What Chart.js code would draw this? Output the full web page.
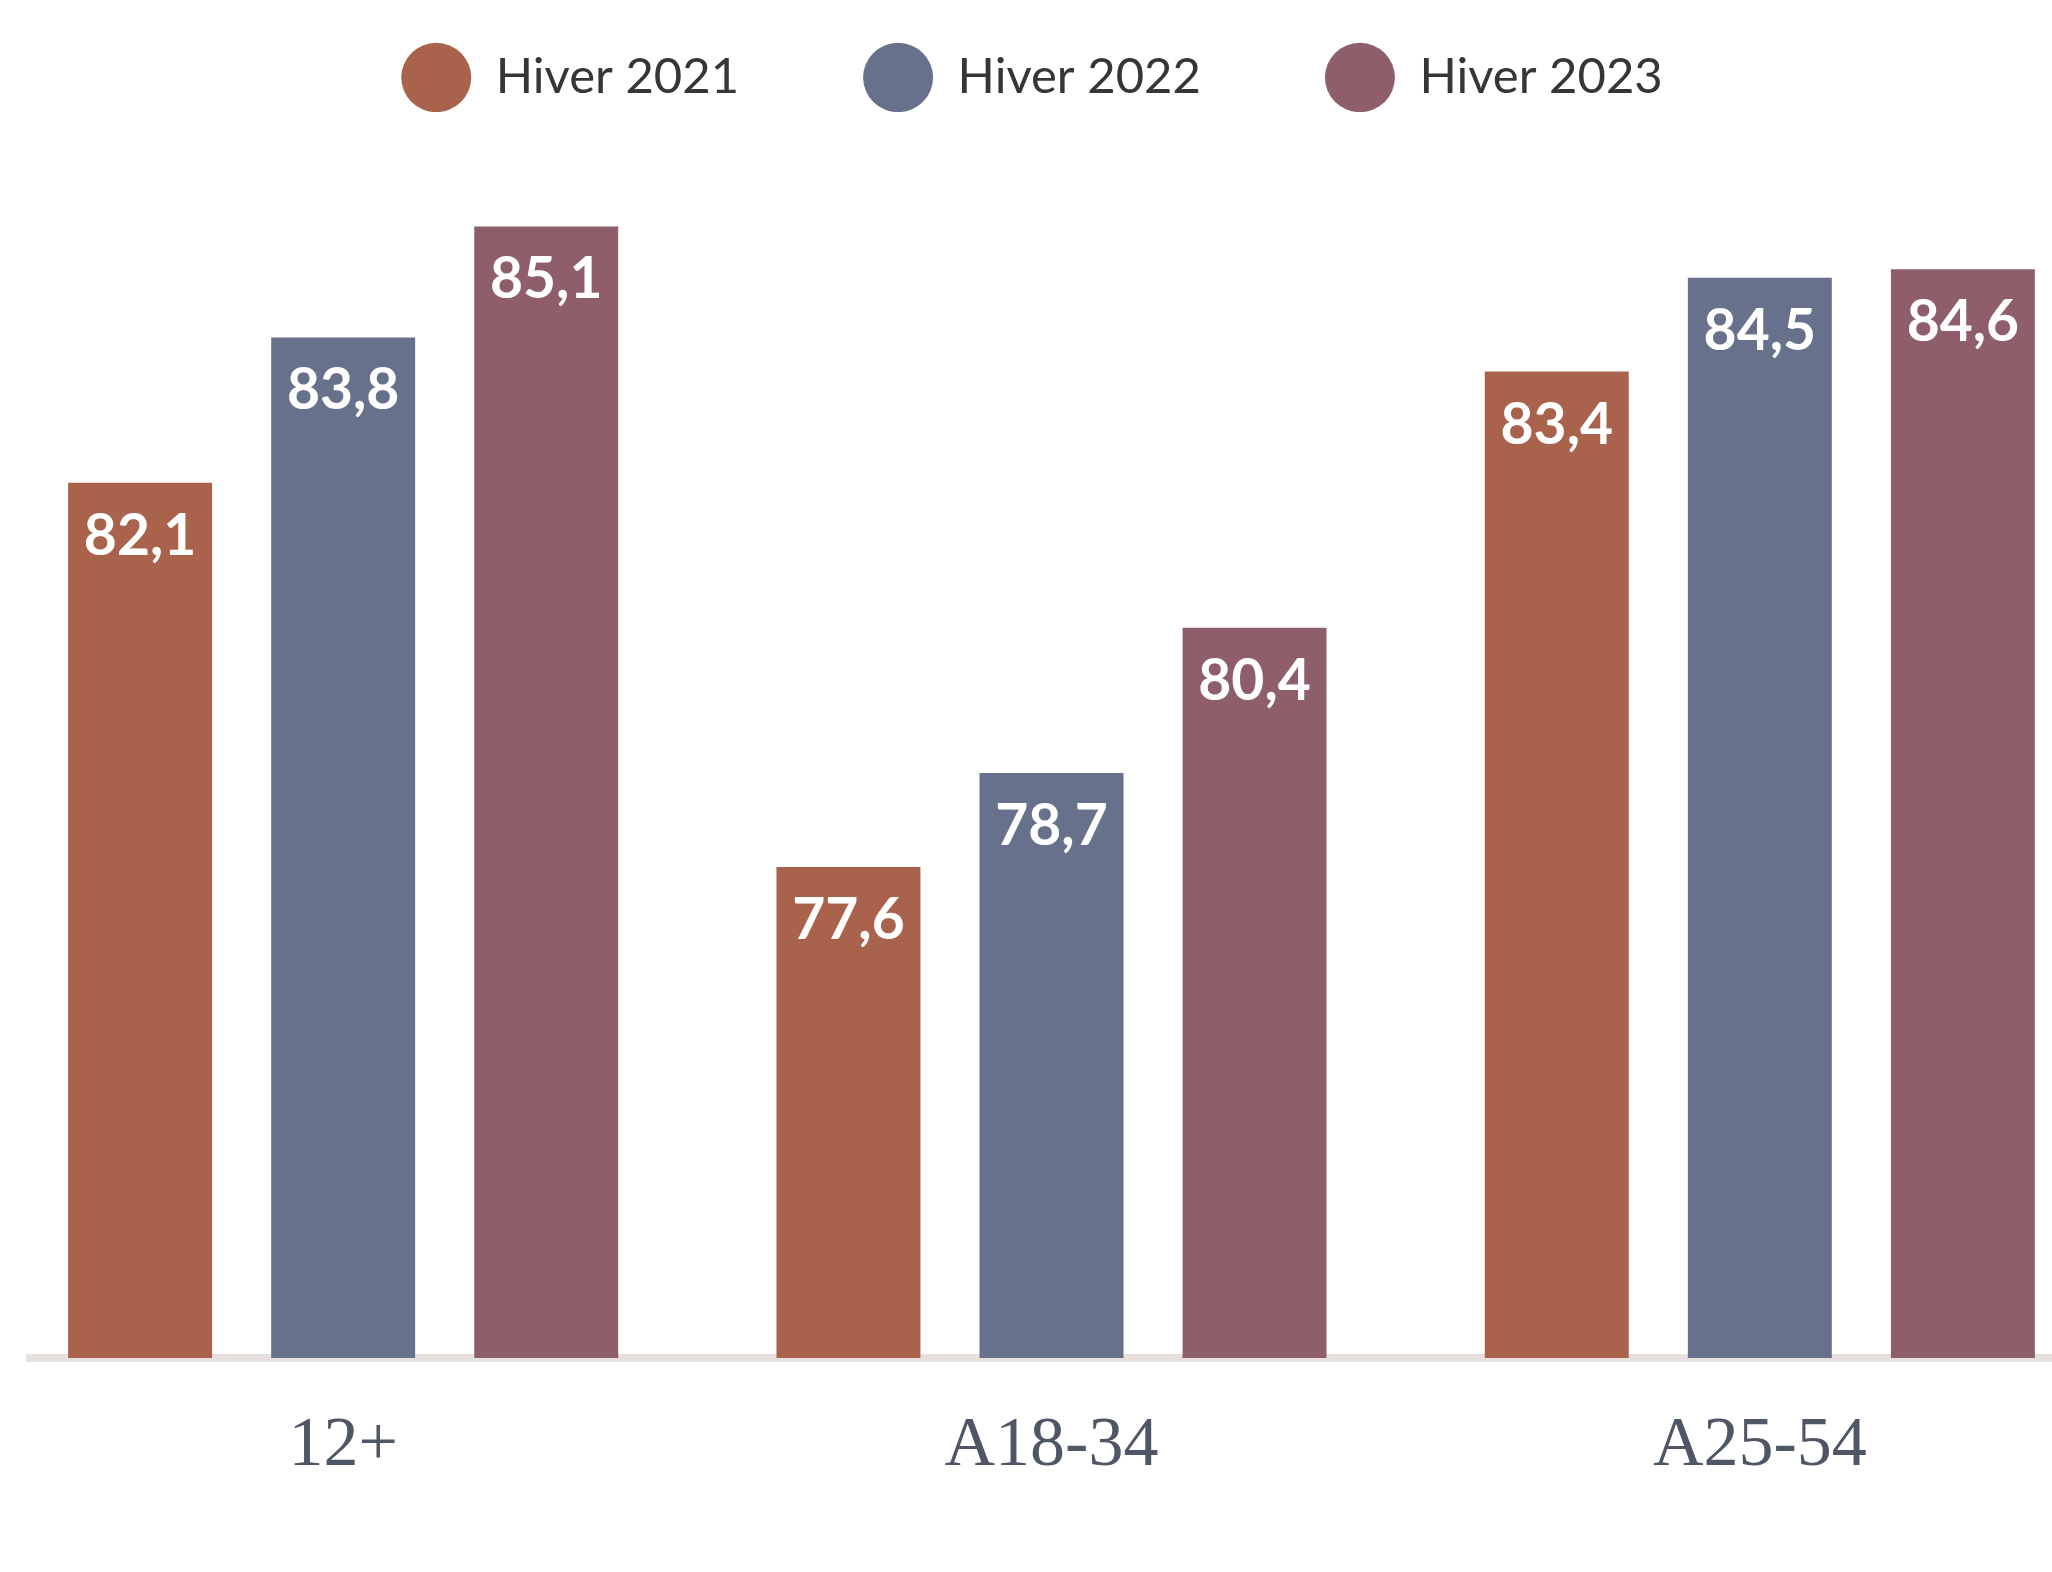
<!DOCTYPE html>
<html>
<head>
<meta charset="utf-8">
<script src="https://cdn.jsdelivr.net/npm/chart.js@4"></script>
<style>
    html, body { margin: 0; padding: 0; background: #fff; overflow: hidden; }
    #clip { position: absolute; left: 26px; top: 0; width: 2026px; height: 1572px; overflow: hidden; }
    #wrap { position: absolute; left: -76px; top: -71px; width: 2164px; height: 1607px; }
</style>
</head>
<body>
<div id="clip"><div id="wrap"><canvas id="audienceChart"></canvas></div></div>
<script>
const categories = ['12+', 'A18-34', 'A25-54'];
const seriesNames = ['Hiver 2021', 'Hiver 2022', 'Hiver 2023'];
const hiver2021 = [82.1, 77.6, 83.4];
const hiver2022 = [83.8, 78.7, 84.5];
const hiver2023 = [85.1, 80.4, 84.6];

const chartColors = {
    hiver2021: '#a9634c',
    hiver2022: '#67718c',
    hiver2023: '#8f5e6b',
    baseline: '#e8e0df',
    tickText: '#4f5666',
    legendText: '#363636',
};

// values printed inside the top of each bar
const barValueLabels = {
    id: 'barValueLabels',
    afterDatasetsDraw(chart) {
        const ctx = chart.ctx;
        ctx.save();
        ctx.fillStyle = '#ffffff';
        ctx.font = 'bold 57px Lato';
        ctx.textAlign = 'center';
        ctx.textBaseline = 'alphabetic';
        chart.data.datasets.forEach((ds, i) => {
            chart.getDatasetMeta(i).data.forEach((bar, j) => {
                const txt = ds.data[j].toFixed(1).replace('.', ',');
                ctx.fillText(txt, bar.x, bar.y + 72);
            });
        });
        ctx.restore();
    }
};

const ctx = document.getElementById('audienceChart').getContext('2d');

window.audienceChart = new Chart(ctx, {
    type: 'bar',
    data: {
        labels: categories,
        datasets: [
            { label: seriesNames[0], data: hiver2021, backgroundColor: chartColors.hiver2021 },
            { label: seriesNames[1], data: hiver2022, backgroundColor: chartColors.hiver2022 },
            { label: seriesNames[2], data: hiver2023, backgroundColor: chartColors.hiver2023 }
        ]
    },
    options: {
        responsive: true,
        maintainAspectRatio: false,
        animation: false,
        categoryPercentage: 0.86,
        barPercentage: 0.709,
        layout: { padding: 0 },
        scales: {
            x: {
                z: 1,
                grid: { display: false, drawTicks: false },
                border: { display: true, color: chartColors.baseline, width: 8 },
                ticks: {
                    color: chartColors.tickText,
                    padding: 47,
                    font: { family: 'Liberation Serif', size: 70 }
                }
            },
            y: {
                // invisible axis, only keeps the legend centred like the original
                display: true,
                min: 71.85,
                max: 86.44,
                grid: { display: false, drawTicks: false },
                border: { display: false },
                ticks: { display: false },
                afterFit(scale) { scale.width = 39; }
            }
        },
        plugins: {
            legend: {
                display: true,
                position: 'top',
                labels: {
                    usePointStyle: true,
                    pointStyle: 'circle',
                    pointStyleWidth: 70,
                    padding: 124,
                    color: chartColors.legendText,
                    font: { family: 'Lato', size: 49 }
                }
            },
            tooltip: { enabled: false }
        }
    },
    plugins: [barValueLabels]
});
</script>
</body>
</html>
